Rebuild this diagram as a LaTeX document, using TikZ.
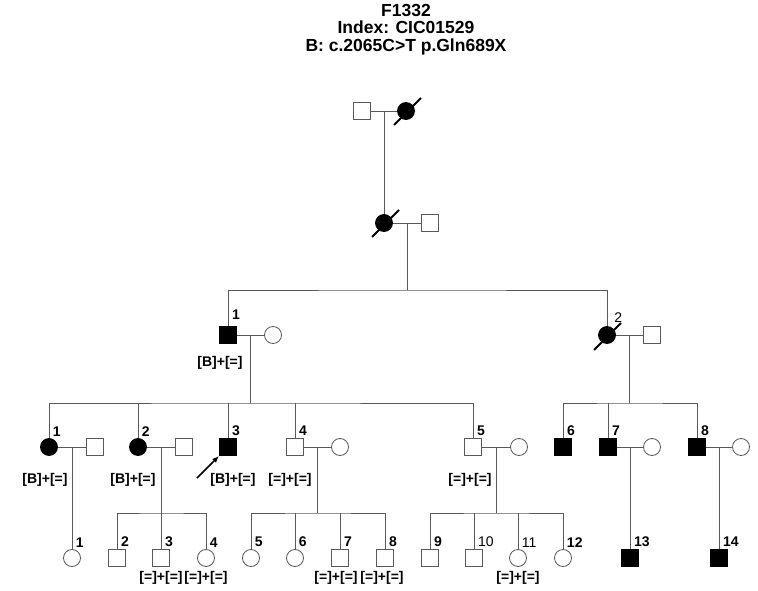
\documentclass[tikz,border=0pt]{standalone}
\usepackage{fontspec}
\setmainfont{Liberation Sans}
\usetikzlibrary{positioning, calc, arrows.meta}

\begin{document}
\begin{tikzpicture}[
  x=1pt, y=-1pt,
  >={Latex[length=7pt, width=5.5pt]},
  ind/.style={draw=gray!70!black, fill=white, line width=0.8pt,
              minimum size=17pt, inner sep=0pt},
  male/.style={ind, rectangle},
  female/.style={ind, circle},
  aff/.style={fill=black, draw=black},
  num/.style={font=\bfseries\fontsize{14}{14}\selectfont, inner sep=0pt,
              xshift=-5pt, yshift=2pt},
  numc/.style={font=\bfseries\fontsize{14}{14}\selectfont, inner sep=0pt,
               xshift=-2.5pt, yshift=4.5pt},
  numl/.style={font=\mdseries\fontsize{14}{14}\selectfont},
  geno/.style={inner sep=1pt, font=\bfseries\fontsize{14}{14}\selectfont},
  title/.style={align=center, font=\bfseries\fontsize{17.5}{17.5}\selectfont},
  rel/.style={draw=gray!70!black, line width=0.8pt},
  dec/.style={black, line width=1.8pt},
  proband/.style={->, black, line width=1.6pt}
]
\useasboundingbox (0,0) rectangle (758,591);

\node[title] (title) at (406,29.5) {F1332\\Index: CIC01529\\B: c.2065C>T p.Gln689X};

% generation I
\node[male] (I1) at (362,111) {};
\node[female, aff] (I2) at (406,111) {};
% generation II
\node[female, aff] (II1) at (384,223) {};
\node[male] (II2) at (430,223) {};
% generation III
\node[male, aff, label={[num, yshift=4pt]north east:1}] (III1) at (228,335) {};
\node[female] (III1w) at (273,335) {};
\node[female, aff, label={[numc, numl, xshift=3.5pt, yshift=2pt]north east:2}] (III2) at (607,335) {};
\node[male] (III2h) at (652,335) {};
\node[geno, below=11pt of III1, xshift=-8pt] (gIII1) {[B]+[=]};
% generation IV
\node[female, aff, label={[numc]north east:1}] (IV1) at (49,447) {};
\node[male] (IV1h) at (95,447) {};
\node[female, aff, label={[numc]north east:2}] (IV2) at (138,447) {};
\node[male] (IV2h) at (184,447) {};
\node[male, aff, label={[num]north east:3}] (IV3) at (228,447) {};
\node[male, label={[num]north east:4}] (IV4) at (295,447) {};
\node[female] (IV4w) at (340,447) {};
\node[male, label={[num]north east:5}] (IV5) at (473,447) {};
\node[female] (IV5w) at (519,447) {};
\node[male, aff, label={[num]north east:6}] (IV6) at (563,447) {};
\node[male, aff, label={[num]north east:7}] (IV7) at (608,447) {};
\node[female] (IV7w) at (652,447) {};
\node[male, aff, label={[num]north east:8}] (IV8) at (697,447) {};
\node[female] (IV8w) at (741,447) {};
\node[geno, below=16pt of IV1, xshift=-4pt] (gIV1) {[B]+[=]};
\node[geno, below=16pt of IV2, xshift=-5pt] (gIV2) {[B]+[=]};
\node[geno, below=16pt of IV3, xshift=5pt] (gIV3) {[B]+[=]};
\node[geno, below=16pt of IV4, xshift=-5pt] (gIV4) {[=]+[=]};
\node[geno, below=16pt of IV5, xshift=-3pt] (gIV5) {[=]+[=]};
% generation V
\node[female, label={[numc]north east:1}] (V1) at (72,558) {};
\node[male, label={[num]north east:2}] (V2) at (117,558) {};
\node[male, label={[num]north east:3}] (V3) at (161,558) {};
\node[female, label={[numc]north east:4}] (V4) at (206,558) {};
\node[female, label={[numc]north east:5}] (V5) at (251,558) {};
\node[female, label={[numc]north east:6}] (V6) at (295,558) {};
\node[male, label={[num]north east:7}] (V7) at (340,558) {};
\node[male, label={[num]north east:8}] (V8) at (385,558) {};
\node[male, label={[num]north east:9}] (V9) at (430,558) {};
\node[male, label={[num, numl]north east:10}] (V10) at (474,558) {};
\node[female, label={[numc, numl]north east:11}] (V11) at (518,558) {};
\node[female, label={[numc]north east:12}] (V12) at (563,558) {};
\node[male, aff, label={[num]north east:13}] (V13) at (630,558) {};
\node[male, aff, label={[num]north east:14}] (V14) at (719,558) {};
\node[geno, below=3pt of V3] (gV3) {[=]+[=]};
\node[geno, below=3pt of V4] (gV4) {[=]+[=]};
\node[geno, below=3pt of V7, xshift=-4pt] (gV7) {[=]+[=]};
\node[geno, below=3pt of V8, xshift=-3pt] (gV8) {[=]+[=]};
\node[geno, below=3pt of V11] (gV11) {[=]+[=]};

% couples and descent lines
\coordinate (m1) at ($(I1.east)!0.5!(I2.west)$);
\draw[rel] (I1) -- (I2);
\draw[rel] (m1) -- (II1);

\coordinate (m2) at ($(II1.east)!0.5!(II2.west)$);
\path (m2) ++(0,67) coordinate (s2);
\draw[rel] (II1) -- (II2);
\draw[rel] (m2) -- (s2);
\draw[rel] (III1.north) |- (s2) -| (III2.north);

\coordinate (m3) at ($(III1.east)!0.5!(III1w.west)$);
\path (m3) ++(0,68) coordinate (s3);
\draw[rel] (III1) -- (III1w);
\draw[rel] (m3) -- (s3);
\draw[rel] (IV1.north) |- (s3) -| (IV5.north);
\draw[rel] (IV2.north) -- (IV2.north |- s3);
\draw[rel] (IV3.north) -- (IV3.north |- s3);
\draw[rel] (IV4.north) -- (IV4.north |- s3);

\coordinate (m4) at ($(III2.east)!0.5!(III2h.west)$);
\path (m4) ++(0,68) coordinate (s4);
\draw[rel] (III2) -- (III2h);
\draw[rel] (m4) -- (s4);
\draw[rel] (IV6.north) |- (s4) -| (IV8.north);
\draw[rel] (IV7.north) -- (IV7.north |- s4);

\coordinate (m5) at ($(IV1.east)!0.5!(IV1h.west)$);
\draw[rel] (IV1) -- (IV1h);
\draw[rel] (m5) -- (V1);

\coordinate (m6) at ($(IV2.east)!0.5!(IV2h.west)$);
\path (m6) ++(0,66) coordinate (s6);
\draw[rel] (IV2) -- (IV2h);
\draw[rel] (m6) -- (s6);
\draw[rel] (V2.north) |- (s6) -| (V4.north);
\draw[rel] (V3.north) -- (V3.north |- s6);

\coordinate (m7) at ($(IV4.east)!0.5!(IV4w.west)$);
\path (m7) ++(0,66) coordinate (s7);
\draw[rel] (IV4) -- (IV4w);
\draw[rel] (m7) -- (s7);
\draw[rel] (V5.north) |- (s7) -| (V8.north);
\draw[rel] (V6.north) -- (V6.north |- s7);
\draw[rel] (V7.north) -- (V7.north |- s7);

\coordinate (m8) at ($(IV5.east)!0.5!(IV5w.west)$);
\path (m8) ++(0,66) coordinate (s8);
\draw[rel] (IV5) -- (IV5w);
\draw[rel] (m8) -- (s8);
\draw[rel] (V9.north) |- (s8) -| (V12.north);
\draw[rel] (V10.north) -- (V10.north |- s8);
\draw[rel] (V11.north) -- (V11.north |- s8);

\coordinate (m9) at ($(IV7.east)!0.5!(IV7w.west)$);
\draw[rel] (IV7) -- (IV7w);
\draw[rel] (m9) -- (V13);

\coordinate (m10) at ($(IV8.east)!0.5!(IV8w.west)$);
\draw[rel] (IV8) -- (IV8w);
\draw[rel] (m10) -- (V14);

% deceased
\draw[dec] ([shift={(-12,14)}]I2.center) -- ([shift={(15,-13)}]I2.center);
\draw[dec] ([shift={(-12,14)}]II1.center) -- ([shift={(15,-13)}]II1.center);
\draw[dec] ([shift={(-13,15)}]III2.center) -- ([shift={(14,-12)}]III2.center);

% proband
\coordinate (pb) at ([shift={(-31,31)}]IV3.center);
\draw[proband] (pb) -- (IV3.south west);
\end{tikzpicture}
\end{document}
